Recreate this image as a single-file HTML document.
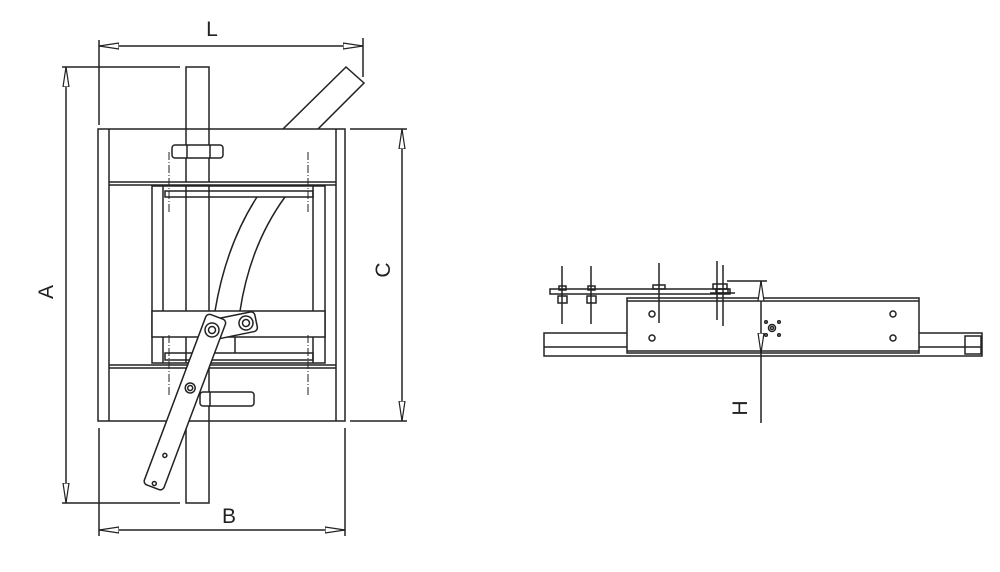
<!DOCTYPE html>
<html><head><meta charset="utf-8"><style>
html,body{margin:0;padding:0;background:#fff;}
svg{display:block}
text{font-family:"Liberation Sans",sans-serif;font-size:21px;fill:#222}
</style></head><body>
<svg width="1000" height="572" viewBox="0 0 1000 572" xmlns="http://www.w3.org/2000/svg">
<defs>
<marker id="ar" viewBox="0 0 20 8" refX="20" refY="4" markerWidth="20" markerHeight="8" orient="auto-start-reverse" markerUnits="userSpaceOnUse">
<path d="M0,1 L20,4 L0,7 Z" fill="#fff" stroke="#222" stroke-width="1.2"/>
</marker>
</defs>
<g fill="none" stroke="#222" stroke-width="1.5">
<line x1="99" y1="46" x2="363" y2="46" marker-start="url(#ar)" marker-end="url(#ar)"/>
<line x1="99" y1="40" x2="99" y2="125"/>
<line x1="363" y1="38" x2="363" y2="77"/>
<line x1="99" y1="530" x2="345" y2="530" marker-start="url(#ar)" marker-end="url(#ar)"/>
<line x1="99" y1="428" x2="99" y2="536"/>
<line x1="345" y1="428" x2="345" y2="536"/>
<line x1="66" y1="67" x2="66" y2="503" marker-start="url(#ar)" marker-end="url(#ar)"/>
<line x1="62" y1="67" x2="180" y2="67"/>
<line x1="62" y1="503" x2="180" y2="503"/>
<line x1="402" y1="129" x2="402" y2="421" marker-start="url(#ar)" marker-end="url(#ar)"/>
<line x1="350" y1="129" x2="407" y2="129"/>
<line x1="350" y1="421" x2="407" y2="421"/>

<rect x="186" y="67" width="23" height="436" fill="#fff"/>
<path d="M283,129 L346,67 L364,83 L318,129" fill="#fff"/>
<rect x="98" y="129" width="247" height="292" fill="#fff"/>
<line x1="186" y1="129" x2="186" y2="182"/><line x1="209" y1="129" x2="209" y2="182"/>
<line x1="186" y1="368" x2="186" y2="421"/><line x1="209" y1="368" x2="209" y2="421"/>
<line x1="109" y1="129" x2="109" y2="421"/>
<line x1="336" y1="129" x2="336" y2="421"/>
<line x1="109" y1="182" x2="336" y2="182"/><line x1="109" y1="185" x2="336" y2="185"/>
<line x1="109" y1="365" x2="336" y2="365"/><line x1="109" y1="368" x2="336" y2="368"/>
<rect x="172" y="145" width="51" height="13" rx="3" fill="#fff"/>
<line x1="187" y1="145" x2="187" y2="158"/><line x1="210" y1="145" x2="210" y2="158"/>
<rect x="200" y="392" width="54" height="14" rx="3" fill="#fff"/>
<line x1="210" y1="392" x2="210" y2="406"/>
<rect x="152" y="186" width="173" height="177" fill="#fff"/>
<line x1="163" y1="186" x2="163" y2="363"/><line x1="313" y1="186" x2="313" y2="363"/>
<line x1="186" y1="186" x2="186" y2="363"/><line x1="209" y1="186" x2="209" y2="363"/>
<rect x="165" y="191" width="148" height="6"/>
<rect x="165" y="353" width="148" height="7"/>
<path d="M257,197 Q226,245 215,311"/>
<path d="M285,197 Q250,245 240,311"/>
<rect x="152" y="311" width="173" height="26" fill="#fff"/>
<line x1="235" y1="337" x2="235" y2="353"/>
<g stroke-dasharray="8,2,1,2" stroke-width="1">
<line x1="169" y1="152" x2="169" y2="213"/><line x1="308" y1="152" x2="308" y2="213"/>
<line x1="169" y1="335" x2="169" y2="397"/><line x1="308" y1="335" x2="308" y2="397"/>
</g>
<g transform="translate(212,330) rotate(-11.6)">
<rect x="-6" y="-10" width="51" height="20" rx="4" fill="#fff"/>
<circle cx="34.7" cy="0" r="7"/><circle cx="34.7" cy="0" r="3.5"/>
</g>
<g transform="translate(212,330) rotate(20.6)">
<rect x="-10.5" y="-14" width="21" height="182" rx="4" fill="#fff"/>
<circle cx="0" cy="0" r="7"/><circle cx="0" cy="0" r="3.5"/>
<circle cx="0" cy="62" r="5"/><circle cx="0" cy="62" r="2.5"/>
<circle cx="0" cy="134" r="2"/><circle cx="0" cy="164" r="2"/>
</g>

<rect x="544" y="333" width="438" height="23" fill="#fff"/>
<line x1="544" y1="347" x2="982" y2="347"/>
<rect x="965" y="336" width="16" height="18"/>
<rect x="550" y="289" width="180" height="5" fill="#fff"/>
<rect x="627" y="298" width="292" height="55" fill="#fff"/>
<line x1="627" y1="301" x2="919" y2="301"/>
<line x1="627" y1="351" x2="919" y2="351"/>
<circle cx="652" cy="314" r="3"/><circle cx="652" cy="338" r="3"/>
<circle cx="893" cy="314" r="3"/><circle cx="893" cy="338" r="3"/>
<circle cx="772" cy="328" r="3.5"/><circle cx="772" cy="328" r="1.5"/>
<circle cx="766" cy="322" r="1.3"/><circle cx="779" cy="322" r="1.3"/>
<circle cx="766" cy="335" r="1.3"/><circle cx="779" cy="335" r="1.3"/>
<rect x="559" y="286" width="7" height="4"/><rect x="558" y="296" width="9" height="7"/>
<rect x="588" y="286" width="7" height="4"/><rect x="587" y="296" width="9" height="7"/>
<rect x="653" y="285" width="12" height="4"/>
<rect x="713" y="284" width="14" height="5"/><rect x="716" y="289" width="12" height="4"/>
<line x1="710" y1="293" x2="735" y2="293"/>
<line x1="562" y1="266" x2="562" y2="324"/>
<line x1="591" y1="266" x2="591" y2="324"/>
<line x1="659" y1="263" x2="659" y2="323"/>
<line x1="717" y1="261" x2="717" y2="320"/>
<line x1="723" y1="265" x2="723" y2="326"/>
<line x1="727" y1="281" x2="767" y2="281"/>
<line x1="761" y1="281" x2="761" y2="423"/>
<line x1="761" y1="301" x2="761" y2="281" marker-end="url(#ar)"/>
<line x1="761" y1="335" x2="761" y2="353" marker-end="url(#ar)"/>
</g>
<text x="212" y="36" text-anchor="middle">L</text>
<text x="229" y="523" text-anchor="middle">B</text>
<text transform="translate(53,292) rotate(-90)" text-anchor="middle">A</text>
<text transform="translate(390,270) rotate(-90)" text-anchor="middle">C</text>
<text transform="translate(747,408) rotate(-90)" text-anchor="middle">H</text>
</svg>
</body></html>
